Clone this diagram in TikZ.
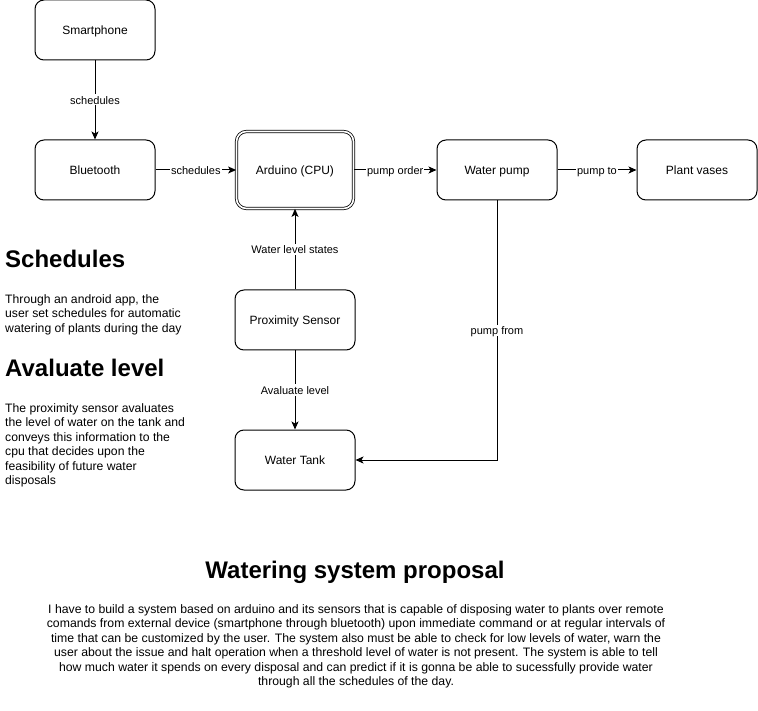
\documentclass[tikz,border=0pt]{standalone}
\usepackage{fontspec}
\setmainfont{Liberation Sans}
\usetikzlibrary{arrows.meta}
\begin{document}
\begin{tikzpicture}[x=1pt,y=-1pt,
  box/.style={draw,line width=1pt,rounded corners=9pt,minimum width=120pt,minimum height=60pt,inner sep=0pt,text height=9.5pt,text depth=0.5pt,font=\fontsize{12}{14.4}\selectfont},
  conn/.style={line width=1pt,-{Stealth[length=8pt,width=7pt,inset=2pt]}},
  lbl/.style={fill=white,inner sep=1pt,text height=9pt,text depth=0pt,font=\fontsize{11}{13}\selectfont},
  head/.style={anchor=base west,inner sep=0pt,font=\fontsize{24}{28}\selectfont\bfseries},
  para/.style={anchor=north west,inner sep=0pt,align=left,font=\fontsize{12.2}{14.5}\selectfont}]
\useasboundingbox (0,0) rectangle (758,711);
\node[box] (phone) at (95,30) {Smartphone};
\node[box] (bt) at (95,170) {Bluetooth};
\node[box,minimum width=117pt,minimum height=77pt,rounded corners=10pt,double,double distance=1.6pt,line width=0.8pt] (ard) at (295,170) {Arduino (CPU)};
\node[box] (pump) at (497,170) {Water pump};
\node[box] (vase) at (697,170) {Plant vases};
\node[box] (prox) at (295,320) {Proximity Sensor};
\node[box] (tank) at (295,460) {Water Tank};
\coordinate (corner) at (497,460);

\draw[conn] (phone) -- node[lbl] {schedules} (bt);
\draw[conn] (bt) -- node[lbl] {schedules} (ard);
\draw[conn] (ard) -- node[lbl] {pump order} (pump);
\draw[conn] (pump) -- node[lbl] {pump to} (vase);
\draw[conn] (prox) -- node[lbl] {Water level states} (ard);
\draw[conn] (prox) -- node[lbl] {Avaluate level} (tank);
\draw[conn] (pump.south) -- node[lbl] {pump from} (corner) -- (tank.east);

\node[head] (h1) at (5,268) {Schedules};
\node[para] (p1) at (5,294) {Through an android app, the\\user set schedules for automatic\\watering of plants during the day};
\node[head] (h2) at (5,377) {Avaluate level};
\node[para] (p2) at (5,403) {The proximity sensor avaluates\\the level of water on the tank and\\conveys this information to the\\cpu that decides upon the\\feasibility of future water\\disposals};
\node[anchor=base,inner sep=0pt,font=\fontsize{24}{28}\selectfont\bfseries] (title) at (355,578) {Watering system proposal};
\node[anchor=north,inner sep=0pt,align=center,font=\fontsize{12.25}{14.5}\selectfont] (desc) at (356,604) {I have to build a system based on arduino and its sensors that is capable of disposing water to plants over remote\\comands from external device (smartphone through bluetooth) upon immediate command or at regular intervals of\\time that can be customized by the user. The system also must be able to check for low levels of water, warn the\\user about the issue and halt operation when a threshold level of water is not present. The system is able to tell\\how much water it spends on every disposal and can predict if it is gonna be able to sucessfully provide water\\through all the schedules of the day.};
\end{tikzpicture}
\end{document}
